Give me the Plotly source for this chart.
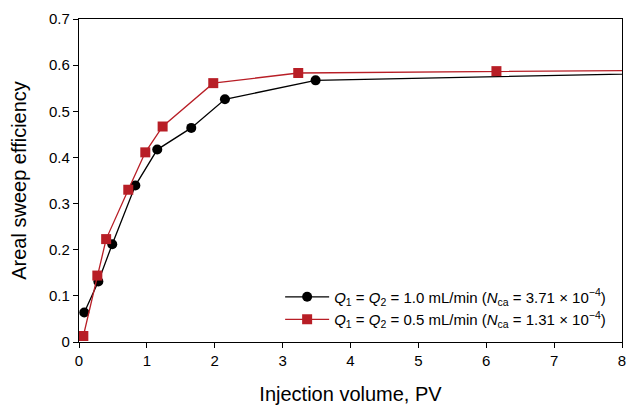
import plotly.graph_objects as go

x_black = [0.078, 0.285, 0.49, 0.83, 1.153, 1.654, 2.15, 3.486, 9.5]
y_black = [0.064, 0.131, 0.212, 0.339, 0.417, 0.464, 0.526, 0.567, 0.585]
x_red = [0.064, 0.27, 0.40, 0.726, 0.977, 1.232, 1.978, 3.23, 6.15, 9.5]
y_red = [0.013, 0.144, 0.223, 0.33, 0.411, 0.467, 0.561, 0.583, 0.587, 0.590]

name_black = "<i>Q</i><sub>1</sub> = <i>Q</i><sub>2</sub> = 1.0 mL/min (<i>N</i><sub>ca</sub> = 3.71 × 10<sup>−4</sup>)"
name_red = "<i>Q</i><sub>1</sub> = <i>Q</i><sub>2</sub> = 0.5 mL/min (<i>N</i><sub>ca</sub> = 1.31 × 10<sup>−4</sup>)"

x_ticks = [0, 1, 2, 3, 4, 5, 6, 7, 8]
y_ticks = [0, 0.1, 0.2, 0.3, 0.4, 0.5, 0.6, 0.7]
y_tick_labels = ["0", "0.1", "0.2", "0.3", "0.4", "0.5", "0.6", "0.7"]

fig = go.Figure()
fig.add_trace(go.Scatter(x=x_black, y=y_black, mode="lines+markers", name=name_black,
                         line=dict(color="black", width=1.3),
                         marker=dict(symbol="circle", size=10, color="black")))
fig.add_trace(go.Scatter(x=x_red, y=y_red, mode="lines+markers", name=name_red,
                         line=dict(color="#B81E26", width=1.3),
                         marker=dict(symbol="square", size=10, color="#B81E26")))

axis_common = dict(showline=True, linecolor="black", linewidth=1.2, mirror=True,
                   ticks="outside", ticklen=5, tickcolor="black", showgrid=False,
                   zeroline=False, automargin=False, tickfont=dict(size=15, color="black"))
fig.update_xaxes(range=[0, 8], tickvals=x_ticks,
                 title=dict(text="Injection volume, PV", font=dict(size=20, color="black"), standoff=18),
                 **axis_common)
fig.update_yaxes(range=[0, 0.7], tickvals=y_ticks, ticktext=y_tick_labels,
                 title=dict(text="Areal sweep efficiency", font=dict(size=20, color="black"), standoff=17),
                 **axis_common)

fig.update_layout(
    width=627, height=408,
    margin=dict(l=79, r=5, t=19, b=66),
    plot_bgcolor="white", paper_bgcolor="white",
    font=dict(family="Liberation Sans, Arial, sans-serif", color="black"),
    legend=dict(x=0.98, y=0.02, xanchor="right", yanchor="bottom",
                bgcolor="rgba(0,0,0,0)", font=dict(size=15, color="black"),
                tracegroupgap=0, itemwidth=44),
)
fig.write_html("out.html", config={"displayModeBar": False},
               post_script="document.body.style.margin='0px';")
